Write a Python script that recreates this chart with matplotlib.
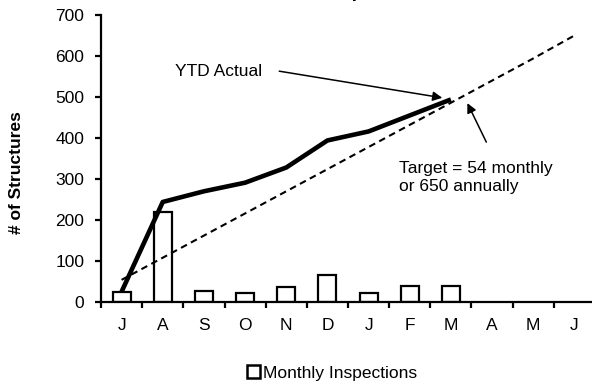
import numpy as np
import matplotlib
matplotlib.use("Agg")
import matplotlib.pyplot as plt
from matplotlib.patches import Patch

plt.rcParams['font.family'] = ['Liberation Sans', 'DejaVu Sans']
FS = 12.5

# months of the fiscal year (Jul - Jun)
months = ['J', 'A', 'S', 'O', 'N', 'D', 'J', 'F', 'M', 'A', 'M', 'J']
# inspections each month (only Jul - Mar so far)
monthly = [25, 220, 27, 21, 37, 66, 23, 39, 39]
# year-to-date actual total
ytd_actual = [25, 244, 270, 291, 328, 394, 416, 455, 494]
# target, 54 per month
target = [54, 108, 162, 216, 270, 324, 378, 432, 486, 540, 594, 650]

fig = plt.figure(figsize=(5.92, 3.85), dpi=100)
ax = fig.add_axes([101 / 592, 1 - 302 / 385, 494 / 592, 287 / 385])

x_all = np.arange(len(months))
x_act = np.arange(len(monthly))

ax.bar(x_act, monthly, width=0.44, facecolor='white', edgecolor='black',
       linewidth=1.6, zorder=2)
ax.plot(x_all, target, color='black', linestyle=(0, (3.2, 2.2)), linewidth=1.5, zorder=3)
ax.plot(x_act, ytd_actual, color='black', linewidth=3.3, zorder=4,
        solid_joinstyle='round', solid_capstyle='butt')

ax.set_xlim(-0.5, 11.5)
ax.set_ylim(0, 700)
ax.set_yticks(range(0, 701, 100))
ax.set_xticks(x_all)
ax.set_xticklabels(months)
ax.set_xticks(np.arange(-0.5, 12, 1), minor=True)
ax.tick_params(axis='x', which='major', length=0, pad=11.5, labelsize=FS)
ax.tick_params(axis='x', which='minor', length=4, width=1.6, direction='out')
ax.tick_params(axis='y', length=4, width=1.6, direction='out', pad=8, labelsize=FS)

for s in ['top', 'right']:
    ax.spines[s].set_visible(False)
ax.spines['left'].set_linewidth(1.6)
ax.spines['bottom'].set_linewidth(1.6)

fig.text(17 / 592, 1 - 173 / 385, '# of Structures', rotation=90, fontsize=FS,
         fontweight='bold', ha='center', va='center')

ax.text(3.42, 563, 'YTD Actual', fontsize=FS, ha='right', va='center')
ax.annotate('', xy=(7.79, 498), xytext=(3.83, 563),
            arrowprops=dict(arrowstyle='-|>', color='black', lw=1.1,
                            mutation_scale=14, shrinkA=0, shrinkB=0))
ax.annotate('', xy=(8.40, 485), xytext=(8.86, 390),
            arrowprops=dict(arrowstyle='-|>', color='black', lw=1.1,
                            mutation_scale=14, shrinkA=0, shrinkB=0))
ax.text(6.75, 345, 'Target = 54 monthly\nor 650 annually', fontsize=FS,
        ha='left', va='top', linespacing=1.25)

# title sits above the visible area; only a descender shows
fig.text(0.56, 0.997, 'Structure Inspections', fontsize=14, fontweight='bold',
         ha='center', va='bottom')

fig.legend(handles=[Patch(facecolor='white', edgecolor='black', linewidth=1.8)],
           labels=['Monthly Inspections'], loc='center', bbox_to_anchor=(332 / 592, 1 - 373 / 385),
           frameon=False, fontsize=FS, handlelength=0.75, handleheight=0.75,
           handletextpad=0.15)

fig.savefig('out.png', dpi=100)
